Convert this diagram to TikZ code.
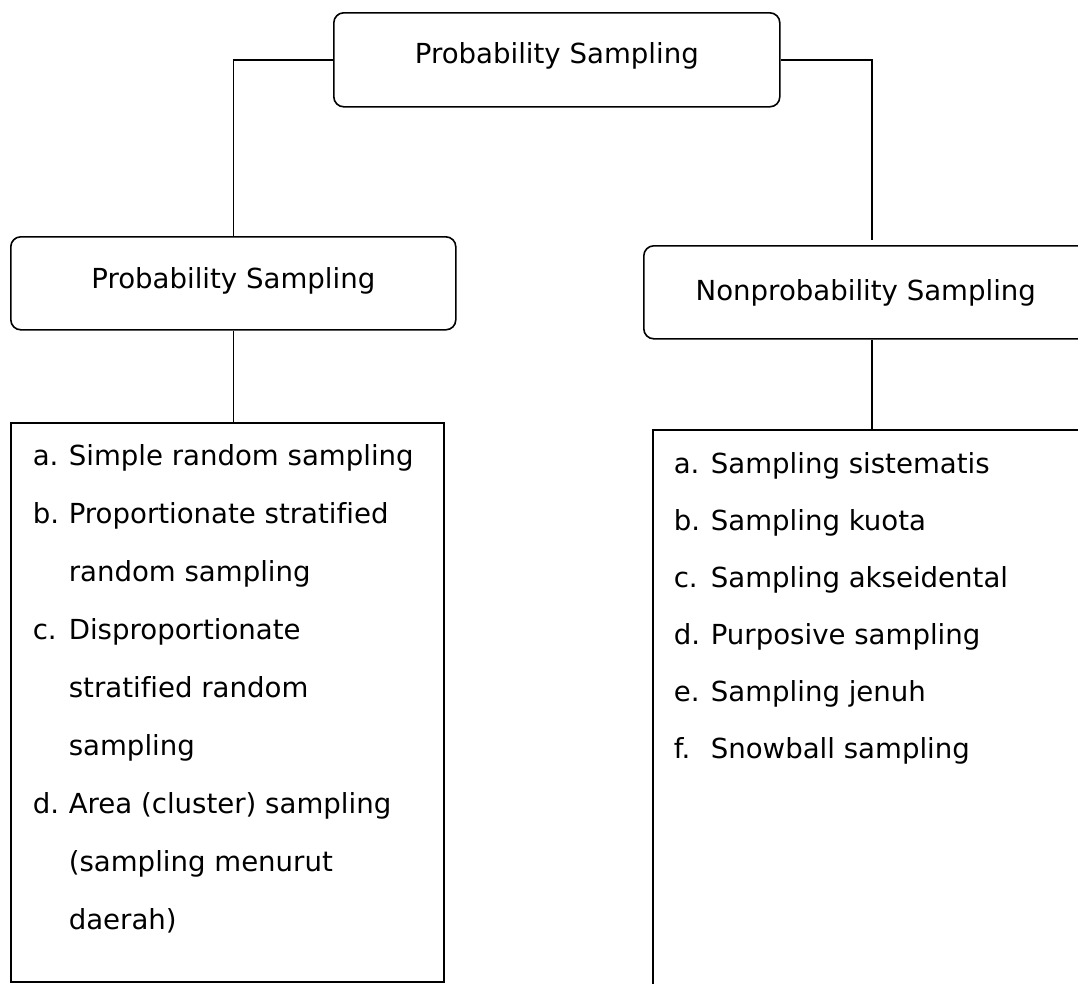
\documentclass[tikz,border=0pt]{standalone}
\usepackage{fontspec}
\setmainfont{DejaVu Sans}[Ligatures=NoCommon]
\begin{document}
\begin{tikzpicture}[x=1pt, y=-1pt, line width=1.6pt,
  headbox/.style={draw, rounded corners=10pt, inner sep=0pt, align=center,
    font=\fontsize{27.6}{33}\selectfont, anchor=north west},
  listbox/.style={draw, inner sep=0pt, anchor=north west},
  itemtext/.style={anchor=base west, inner sep=0pt, font=\fontsize{27.6}{33}\selectfont},
  link/.style={draw, line width=1.6pt}]
\useasboundingbox (0,0) rectangle (1078,983);
\clip (0,0) rectangle (1078,983);

% heading boxes
\node[headbox, minimum width=446pt, text height=51pt, text depth=43pt] (top) at (333,12) {Probability Sampling};
\node[headbox, minimum width=445pt, text height=52pt, text depth=41pt] (prob) at (10,236) {Probability Sampling};
\node[headbox, minimum width=444pt, text height=55pt, text depth=38pt] (nonprob) at (643,245) {Nonprobability Sampling};

% list boxes
\node[listbox, minimum width=433pt, minimum height=559pt] (problist) at (10,422) {};
\node[listbox, minimum width=460pt, minimum height=600pt] (nonlist) at (652,429) {};

% connectors
\coordinate (rdrop) at (872,240);
\draw[link] (top.west) -| (prob.north);
\draw[link] (top.east) -| (rdrop);
\draw[link] (prob.south) -- (prob.south |- problist.north);
\draw[link] (nonprob.south -| rdrop) -- (rdrop |- nonlist.north);

% probability sampling techniques
\foreach \lab/\txt [count=\i from 0] in {a./Simple random sampling, b./Proportionate stratified, /random sampling, c./Disproportionate, /stratified random, /sampling, d./Area (cluster) sampling, /(sampling menurut, /daerah)}{
  \node[itemtext] (pl\i) at (32, 465+58.1*\i) {\lab};
  \node[itemtext] (pt\i) at (68, 465+58.1*\i) {\txt};
}

% nonprobability sampling techniques
\foreach \lab/\txt [count=\i from 0] in {a./Sampling sistematis, b./Sampling kuota, c./Sampling akseidental, d./Purposive sampling, e./Sampling jenuh, f./Snowball sampling}{
  \node[itemtext] (nl\i) at (673, 473+57*\i) {\lab};
  \node[itemtext] (nt\i) at (710, 473+57*\i) {\txt};
}
\end{tikzpicture}
\end{document}
